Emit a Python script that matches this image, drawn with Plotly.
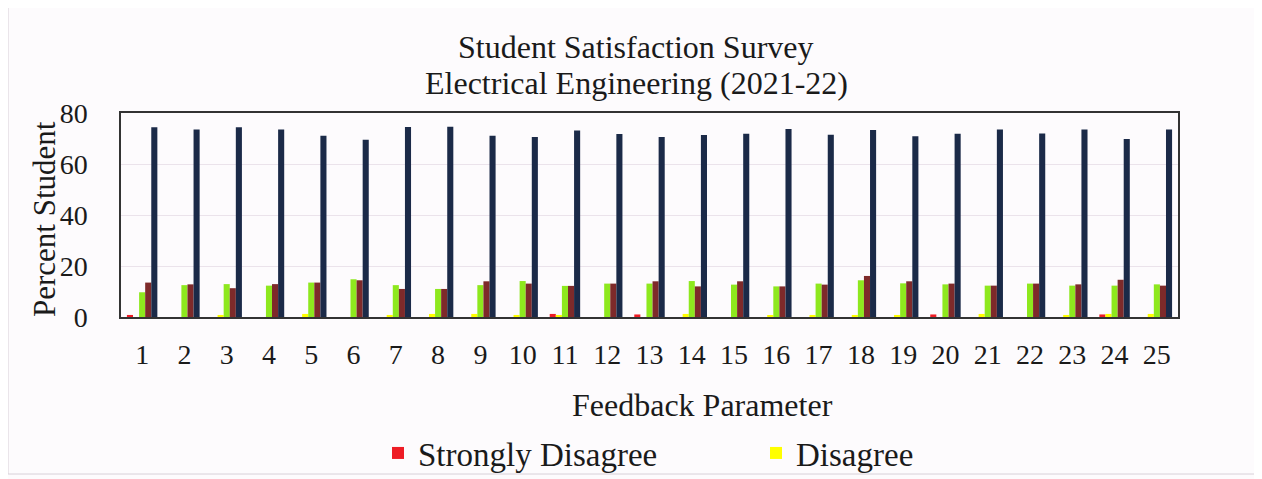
import plotly.graph_objects as go

params = [str(i) for i in range(1, 26)]
strongly_disagree = [0.8, 0, 0, 0, 0, 0, 0, 0, 0, 0, 1.2, 0, 1.0, 0, 0, 0, 0, 0, 0, 1.0, 0, 0, 0, 1.0, 0]
disagree = [0, 0, 0.8, 0, 1.2, 0, 0.8, 1.2, 1.2, 0.8, 0.8, 0, 0, 1.2, 0, 0.5, 0.8, 0.8, 0.8, 0, 1.2, 0, 0.8, 1.2, 1.2]
neutral = [9.7, 12.5, 12.9, 12.3, 13.5, 14.8, 12.5, 11.0, 12.5, 14.1, 12.2, 13.1, 13.1, 14.1, 12.7, 12.0, 13.1, 14.4, 13.2, 12.8, 12.3, 13.1, 12.3, 12.3, 12.8]
agree = [13.5, 12.8, 11.3, 12.9, 13.5, 14.4, 11.0, 11.0, 14.0, 13.1, 12.2, 13.1, 14.0, 12.0, 14.0, 12.0, 12.7, 16.1, 14.0, 13.1, 12.3, 13.1, 12.8, 14.6, 12.3]
strongly_agree = [74.4, 73.5, 74.4, 73.5, 71.1, 69.5, 74.5, 74.6, 71.1, 70.6, 73.1, 71.8, 70.6, 71.4, 71.9, 73.7, 71.5, 73.3, 70.9, 71.9, 73.5, 72.0, 73.5, 69.8, 73.5]
title_lines = ["Student Satisfaction Survey", "Electrical Engineering (2021-22)"]
x_title = "Feedback Parameter"
y_title = "Percent Student"

series = [
    ("Strongly Disagree", strongly_disagree, "#ee1c25", True),
    ("Disagree", disagree, "#ffff00", True),
    ("Neutral", neutral, "#8ee81e", False),
    ("Agree", agree, "#7e2a2a", False),
    ("Strongly Agree", strongly_agree, "#1b2a48", False),
]

W, H = 1262, 479
OFF = 8  # page body margin offset
PL, PR, PT, PB = 121, 1178, 113, 317  # target plot area in screen pixels
PW, PH = PR - PL, PB - PT


def px(x):
    return (x - PL) / PW


def py(y):
    return (PB - y) / PH


fig = go.Figure()
for name, vals, color, show in series:
    fig.add_trace(go.Bar(x=params, y=vals, name=name, marker_color=color,
                         marker_line_width=0, showlegend=show))

font_family = "Liberation Serif"
fig.update_layout(
    width=W, height=H,
    barmode="group", bargap=0.28, bargroupgap=0.0,
    paper_bgcolor="#fdfbfd", plot_bgcolor="#fdfbfd",
    margin=dict(l=PL - OFF, r=W + OFF - PR, t=PT - OFF, b=H + OFF - PB, autoexpand=False),
    font=dict(family=font_family, size=28, color="#1a1a1a"),
    xaxis=dict(showline=True, linecolor="#333", linewidth=1.5, mirror=True,
               tickfont=dict(size=28), ticks="", automargin=False,
               ticklabelstandoff=12),
    yaxis=dict(range=[0, 80], dtick=20, showline=True, linecolor="#333",
               linewidth=1.5, mirror=True, gridcolor="#ebe3eb", gridwidth=1,
               tickfont=dict(size=28), ticks="", zeroline=False, automargin=False,
               ticklabelstandoff=26),
    legend=dict(orientation="h", x=(378 - OFF) / W, xref="container", xanchor="left",
                y=(H + OFF - 453) / H, yref="container", yanchor="middle",
                entrywidth=333, entrywidthmode="pixels",
                font=dict(size=33), bgcolor="rgba(0,0,0,0)",
                itemwidth=30),
)
for line, ypx in zip(title_lines, [47, 83]):
    fig.add_annotation(text=line, xref="paper", yref="paper",
                       x=px(636), y=py(ypx), yanchor="middle", xanchor="center",
                       showarrow=False,
                       font=dict(family=font_family, size=32, color="#1a1a1a"))
fig.add_annotation(text=x_title, xref="paper", yref="paper", x=px(702), y=py(405),
                   xanchor="center", yanchor="middle", showarrow=False,
                   font=dict(family=font_family, size=32, color="#1a1a1a"))
fig.add_annotation(text=y_title, xref="paper", yref="paper", x=px(44), y=py(219),
                   xanchor="center", yanchor="middle", showarrow=False, textangle=-90,
                   font=dict(family=font_family, size=31, color="#1a1a1a"))
fig.add_shape(type="rect", xref="paper", yref="paper",
              x0=px(8), x1=px(1255), y0=py(474), y1=py(6),
              line=dict(color="#d8d0d8", width=1))
fig.write_html("out.html")
